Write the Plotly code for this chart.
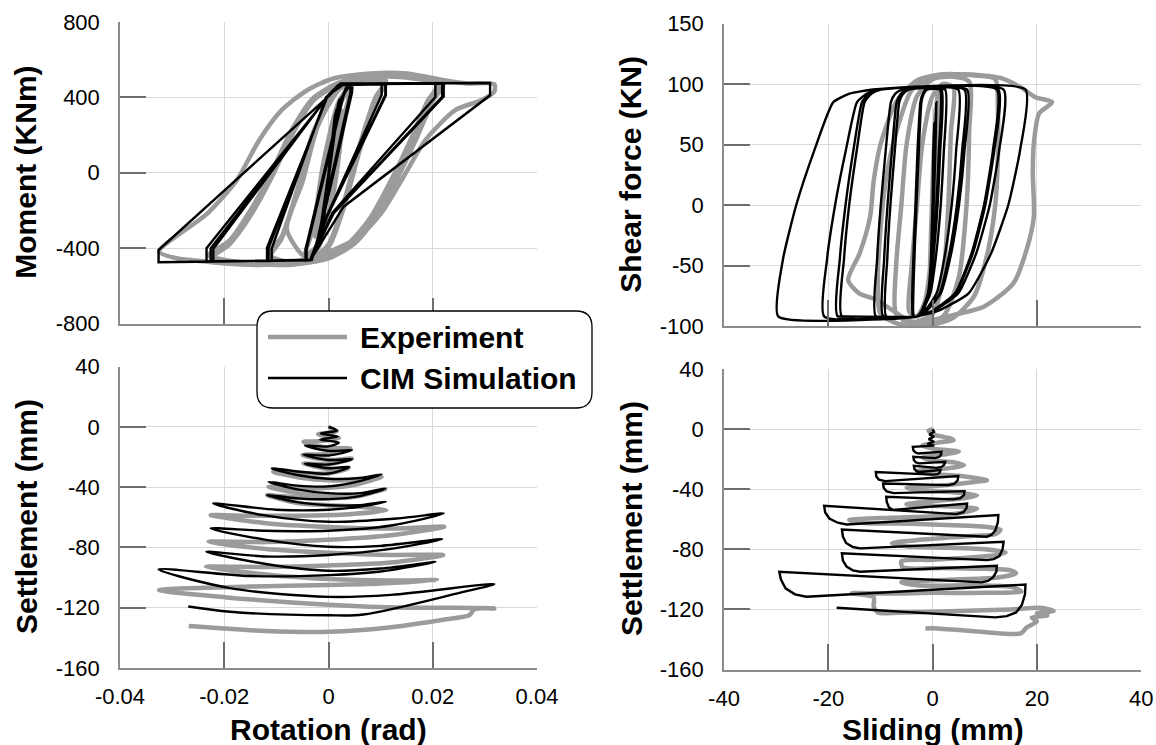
import plotly.graph_objects as go

# ---------------- DATA ----------------
# Top-left: Moment (KNm) vs Rotation (rad)
TL_EXP = [
    (0, 0), (0.0015, 200), (0.002, 280), (0.0005, 0), (-0.002, -280), (-0.0005, 0), (0.0025, 330), (0, -50), (-0.0025, -340),
    (-0.001, 50), (0.002, 350), (0.0045, 470), (0.003, 300), (0.001, -100), (-0.002, -380), (-0.0045, -440),
    (-0.003, -300), (-0.001, 50), (0.002, 380), (0.0045, 470), (0.003, 280), (0.0005, -150), (-0.002, -400), (-0.0045, -445),
    (-0.008, -300), (-0.005, -50), (-0.002, 250), (0.002, 440), (0.006, 500), (0.011, 490),
    (0.009, 400), (0.006, 150), (0.003, -150), (0, -380), (-0.004, -470), (-0.008, -475), (-0.011, -440),
    (-0.009, -350), (-0.006, -100), (-0.003, 200), (0.001, 420), (0.006, 495), (0.011, 485),
    (0.009, 380), (0.006, 120), (0.003, -180), (0, -390), (-0.004, -470), (-0.008, -472), (-0.0115, -435),
    (-0.009, -340), (-0.006, -90), (-0.003, 210), (0.001, 420), (0.006, 490), (0.011, 480),
    (0.009, 380), (0.006, 120), (0.003, -180), (0, -395), (-0.004, -470), (-0.008, -470),
    (-0.015, -480), (-0.022, -445),
    (-0.019, -380), (-0.015, -230), (-0.011, -30), (-0.007, 200), (-0.003, 380), (0.002, 470), (0.008, 510), (0.015, 505), (0.022, 475),
    (0.020, 390), (0.017, 200), (0.013, -30), (0.009, -230), (0.005, -370), (0, -450), (-0.007, -485), (-0.015, -480), (-0.0225, -445),
    (-0.019, -370), (-0.015, -210), (-0.011, -10), (-0.007, 220), (-0.003, 390), (0.002, 475), (0.008, 510), (0.015, 505), (0.022, 470),
    (0.020, 380), (0.017, 190), (0.013, -40), (0.009, -240), (0.005, -375), (0, -455), (-0.007, -488), (-0.015, -482), (-0.023, -440),
    (-0.019, -360), (-0.015, -200), (-0.011, 0), (-0.007, 230), (-0.003, 395), (0.002, 478), (0.008, 512), (0.015, 505), (0.021, 470),
    (0.019, 380), (0.016, 190), (0.012, -40), (0.008, -240), (0.004, -370), (-0.001, -450), (-0.008, -485), (-0.016, -485),
    (-0.024, -470), (-0.029, -455), (-0.0325, -418),
    (-0.0232, -215), (-0.0176, -39), (-0.0133, 173), (-0.009, 332), (-0.0041, 438), (0.0009, 500), (0.008, 527), (0.0151, 527),
    (0.0222, 491), (0.0265, 474), (0.0318, 470),
    (0.0318, 430), (0.0293, 385), (0.0243, 332), (0.0186, 173), (0.0144, -21), (0.0101, -215), (0.0059, -339), (0.0009, -410),
    (-0.0062, -471), (-0.0133, -489), (-0.0204, -480), (-0.0268, -462),
]
TL_SIM = [
    (0, 0), (0.0012, 300), (0.0016, 340), (-0.0010, -280), (-0.0014, -330), (0.0018, 360), (0.0021, 390), (-0.0016, -350), (-0.0020, -380), (0.0020, 380),
    (0.0042, 468), (0.0042, 425), (-0.0020, -340), (-0.0032, -462), (-0.0042, -466), (-0.0042, -405), (0.0028, 400), (0.0036, 466),
    (0.0045, 470), (0.0045, 425), (-0.0018, -340), (-0.0032, -462), (-0.0044, -466), (-0.0044, -405), (0.0026, 400), (0.0036, 466),
    (0.0042, 470), (0.0042, 425), (-0.0020, -345), (-0.0033, -462),
    (-0.0109, -466), (-0.0109, -402), (-0.0005, 400), (0.0019, 466), (0.0102, 470), (0.0102, 412), (-0.0004, -233), (-0.0035, -462),
    (-0.0115, -468), (-0.0115, -400), (-0.0003, 403), (0.0020, 466), (0.0109, 470), (0.0109, 412), (-0.0003, -230), (-0.0035, -462),
    (-0.0118, -468), (-0.0118, -398), (-0.0002, 405), (0.0021, 468), (0.0110, 471), (0.0110, 410), (-0.0002, -228), (-0.0035, -463),
    (-0.0221, -470), (-0.0221, -405), (0.0002, 418), (0.0028, 470), (0.0221, 473), (0.0221, 405), (0.0010, -215), (-0.0035, -464),
    (-0.0226, -470), (-0.0226, -402), (0.0003, 420), (0.0030, 471), (0.0218, 473), (0.0218, 403), (0.0010, -212), (-0.0035, -464),
    (-0.0234, -471), (-0.0234, -400), (0.0004, 421), (0.0031, 472), (0.0205, 474), (0.0205, 402), (0.0008, -210), (-0.0035, -465),
    (-0.0326, -475), (-0.0326, -410), (0.0002, 411), (0.0023, 474), (0.0310, 476), (0.0310, 411), (0.0029, -180), (-0.0035, -465),
    (-0.0268, -472),
]

# Top-right: Shear force (KN) vs Sliding (mm)
TR_EXP = [
    (0, 0), (0.3, 50), (0.6, 80), (0, 20), (-0.5, -50), (-0.8, -75), (0, -10), (0.8, 85), (1.2, 95),
    (0.8, 40), (0, -30), (-1.5, -80), (-3, -92), (-4.5, -88),
    (-4, -50), (-3, 0), (-2, 50), (0, 90), (2, 100), (4, 97),
    (3.5, 60), (3, 0), (2, -60), (0, -90), (-4, -97), (-7, -90),
    (-7, -50), (-6, 0), (-5, 50), (-3, 90), (0, 104), (4, 106), (7, 102),
    (7, 60), (6.5, 0), (5, -60), (2, -92), (-3, -99), (-7.7, -87), (-11, -78), (-14.1, -73), (-16.2, -62),
    (-14, -40), (-12, -10), (-11.3, 20), (-10, 50), (-7, 85), (-3, 103), (2, 108), (8, 107), (12, 104),
    (12.5, 80), (12.5, 40), (12, 0), (10.5, -40), (8, -75), (4, -93), (-1, -100), (-6, -99), (-10, -90),
    (-10.5, -60), (-10, -20), (-9, 20), (-7, 60), (-4, 95), (0, 106), (6, 108), (13, 105), (17, 97),
    (19.7, 89), (22.9, 85), (20.4, 75.6), (19.4, 50.8), (19.2, 26), (19.4, -9.6), (18.0, -37.1), (15.5, -64.6),
    (9.9, -83.8), (2.8, -92), (-2, -97), (-6, -95),
]
TR_SIM = [
    (0, 0), (0.1, 40), (0.3, 68), (0.1, 20), (-0.3, -40), (-0.5, -70), (0.1, 10), (0.5, 60), (0.7, 85), (0.5, 40),
    (0, -20), (-0.8, -70), (-1.8, -88), (-3.0, -92),
    (-3.8, -92), (-3.7, -45), (-3.3, 0), (-2.9, 45), (-2.35, 85), (-1.9, 92), (-1.3, 95.4), (1.7, 95.4),
    (1.45, 45), (0.95, 0), (0.2, -40), (-0.75, -73), (-2.05, -87), (-3.0, -92),
    (-3.7, -92), (-3.6, -45), (-3.2, 0), (-2.75, 45), (-2.25, 85), (-1.8, 92), (-1.2, 95.4), (2.4, 95.4),
    (2.15, 45), (1.55, 0), (0.7, -40), (-0.45, -73), (-1.9, -87), (-3.0, -92),
    (-3.6, -92), (-3.5, -45), (-3.1, 0), (-2.65, 45), (-2.15, 85), (-1.7, 92), (-1.1, 95.4), (1.4, 95.4),
    (1.2, 45), (0.7, 0), (0.0, -40), (-0.9, -73), (-2.1, -87), (-3.0, -92),
    (-10.9, -92), (-10.65, -45), (-9.95, 0), (-9.0, 45), (-8.0, 85), (-7.15, 92), (-5.9, 95.4), (4.9, 95.4),
    (4.5, 45), (3.65, 0), (2.4, -40), (0.75, -73), (-1.4, -87), (-3.0, -92),
    (-9.5, -92), (-9.3, -45), (-8.65, 0), (-7.8, 45), (-6.9, 85), (-6.1, 92), (-5.0, 95.4), (6.1, 95.4),
    (5.65, 45), (4.65, 0), (3.2, -40), (1.35, -73), (-1.15, -87), (-3.0, -92),
    (-8.9, -92), (-8.7, -45), (-8.1, 0), (-7.25, 45), (-6.4, 85), (-5.7, 92), (-4.6, 95.4), (6.6, 95.4),
    (6.1, 45), (5.05, 0), (3.55, -40), (1.55, -73), (-1.05, -87), (-3.0, -92),
    (-20.8, -92), (-20.25, -45), (-18.7, 0), (-16.65, 45), (-14.5, 85), (-12.6, 92), (-9.9, 95.4), (12.6, 95.4),
    (11.8, 45), (10.1, 0), (7.7, -40), (4.4, -73), (0.2, -87), (-3.0, -92),
    (-18.2, -92), (-17.8, -45), (-16.7, 0), (-15.2, 45), (-13.55, 85), (-12.2, 92), (-10.2, 95.4), (13.6, 95.4),
    (12.75, 45), (10.95, 0), (8.35, -40), (4.9, -73), (0.4, -87), (-3.0, -92),
    (-17.4, -92), (-17.0, -45), (-16.0, 0), (-14.55, 45), (-13.05, 85), (-11.75, 92), (-9.9, 95.4), (12.3, 95.4),
    (11.55, 45), (9.85, 0), (7.45, -40), (4.3, -73), (0.1, -87), (-3.0, -92),
    (-29.6, -92), (-28.7, -45), (-26.15, 0), (-22.7, 45), (-19.05, 85), (-15.95, 92), (-11.4, 95.4), (17.8, 95.4),
    (16.75, 45), (14.5, 0), (11.2, -40), (6.9, -73), (1.25, -87), (-3.0, -92),
    (-18.4, -92),
]

# Bottom-left: Settlement (mm) vs Rotation (rad)
BL_EXP = [
    (0, 0), (0.0015, -3), (-0.002, -5), (0.002, -7.5), (-0.002, -9.5),
    (-0.0048, -10), (0, -14), (0.0042, -14.4), (0, -18), (-0.005, -18.8), (0, -22), (0.0045, -21), (0, -25),
    (-0.0048, -24.3), (0, -28), (0.0038, -27.6), (0, -31),
    (-0.0106, -29.9), (-0.005, -34), (0, -35.5), (0.006, -35), (0.0102, -33.2),
    (0.005, -38.5), (0, -40.5), (-0.006, -41), (-0.0115, -39.8),
    (-0.006, -44), (0, -45.5), (0.006, -45), (0.0109, -41.3),
    (0.005, -46.5), (0, -47.5), (-0.006, -47), (-0.0118, -45.3),
    (-0.006, -50.5), (0, -52), (0.006, -53), (0.0111, -55.3),
    (0.004, -58), (-0.006, -59), (-0.015, -59), (-0.0226, -58.6),
    (-0.012, -64), (0, -66.5), (0.012, -67.5), (0.0222, -66.3),
    (0.012, -72), (0, -75), (-0.012, -76.5), (-0.023, -76.3),
    (-0.012, -81), (0, -83.5), (0.012, -85), (0.022, -85.1),
    (0.012, -90), (0, -92), (-0.012, -93), (-0.0235, -92.9),
    (-0.012, -98), (0, -101), (0.012, -102), (0.0208, -101.7),
    (0.01, -104), (0, -105), (-0.015, -106), (-0.0325, -108.3),
    (-0.02, -113), (0, -118), (0.015, -120), (0.025, -120), (0.0318, -120.5),
    (0.028, -121), (0.027, -125), (0.022, -128), (0.012, -133), (0, -136), (-0.012, -135.5), (-0.0268, -132.2),
]
BL_SIM = [
    (0, 0), (0.0017, -2.5), (-0.0015, -4.5), (0.0018, -6.5), (-0.0016, -8.5), (0.0020, -10.5),
    (0, -13), (-0.0045, -12.5), (0, -16), (0.0045, -15.5), (0, -19), (-0.0048, -18.5), (0, -22), (0.0045, -21.5),
    (0, -25), (-0.0045, -24.5), (0, -27.5), (0.0040, -26.5), (0, -31),
    (-0.0109, -27.6), (-0.006, -32), (0, -34.5), (0.006, -34), (0.0102, -31.5),
    (0.006, -36), (0, -39.5), (-0.006, -39), (-0.0115, -36.5),
    (-0.006, -41.5), (0, -44), (0.006, -44), (0.0109, -41),
    (0.006, -46), (0, -48), (-0.006, -47.5), (-0.0118, -45.3),
    (-0.006, -50), (0, -52), (0.006, -52), (0.011, -49.7),
    (0.006, -53), (0, -55), (-0.01, -55), (-0.0221, -50.9),
    (-0.0125, -58.6), (0, -63), (0.0131, -60.8), (0.0221, -57.5),
    (0.012, -65.5), (0, -69), (-0.012, -69), (-0.0226, -67.4),
    (-0.012, -75), (0, -79.6), (0.01, -79), (0.0218, -74.5),
    (0.012, -81), (0, -85), (-0.012, -86), (-0.0234, -82.9),
    (-0.012, -91), (0, -95.5), (0.01, -94), (0.0205, -89.6),
    (0.01, -96), (0, -98.4), (-0.015, -99), (-0.0326, -94.6),
    (-0.0189, -107), (0, -112.8), (0.012, -111.5), (0.0318, -104.3),
    (0.0253, -110), (0.0067, -124.5), (0, -125), (-0.0189, -122.7), (-0.0269, -119.2),
]

# Bottom-right: Settlement (mm) vs Sliding (mm)
BR_EXP = [
    (0, 0), (-0.8, -1), (0.5, -4), (3.3, -6), (4, -7.3), (1, -9), (-2, -11), (0, -13), (3, -14), (5, -15),
    (2, -17), (-2, -19), (0, -21), (4, -22), (6, -24), (3, -26), (-3, -28), (0, -30), (5, -31), (9, -33),
    (10.4, -34), (6, -36), (0, -38), (-5, -39), (-2, -41), (4, -42), (8.5, -44), (6, -46), (0, -48), (-5, -50),
    (0, -51), (6, -52), (8.5, -53), (5, -56), (0, -58), (-8, -59), (-16, -60.5), (-13, -62.5), (-4, -63), (4, -64),
    (10, -65), (13, -67), (12, -70), (8, -71), (0, -73), (-7.8, -76), (-5, -78), (3, -79), (10, -80), (14, -82),
    (12, -84), (5, -86), (0, -87), (-6, -88), (-5.7, -92), (2, -92.5), (10, -93), (15, -94), (16, -96), (12, -99),
    (5, -100), (-2, -101), (-6, -102), (-3, -104), (8, -104), (15, -105), (17, -108), (10, -109), (0, -109),
    (-8, -109.5), (-15.5, -109.2), (-11.3, -112), (-11.3, -118), (-10.5, -122), (-5, -122), (5, -121), (15, -120),
    (21, -119), (23.2, -121), (20, -122.5), (22, -124), (19, -125.5), (20, -128), (18, -132), (16.9, -136),
    (8, -134.5), (0, -132.5), (-1.4, -132.7),
]
BR_SIM = [
    (0, 0), (0.26, -1.8), (-0.64, -3.5), (0.26, -5.1), (-0.77, -6.7), (0.26, -8.4), (-1.0, -9.8), (0.3, -11.0),
    (-3.8, -11.8), (-3.7, -14.0), (-3.3, -15.6), (-2.7, -16.2), (1.7, -15.1), (1.6, -17.2), (1.2, -18.6), (0.5, -19.3),
    (-3.7, -18.4), (-3.6, -20.6), (-3.2, -22.2), (-2.6, -22.8), (2.4, -21.7), (2.2, -23.8), (1.7, -25.2), (0.8, -25.8),
    (-3.6, -24.4), (-3.5, -26.5), (-3.1, -28.0), (-2.5, -28.5), (1.5, -27.3), (1.35, -29.0), (0.9, -30.0), (0.1, -30.3),
    (-10.9, -28.6), (-10.8, -31.5), (-10.3, -33.7), (-9.1, -34.6), (4.9, -31.3), (4.8, -34.0), (4.2, -36.3), (3.0, -37.3),
    (-9.5, -36.2), (-9.4, -39.0), (-8.8, -41.5), (-7.5, -42.6), (6.1, -41.3), (6.0, -44.0), (5.3, -46.0), (4.0, -46.8),
    (-8.9, -45.0), (-8.8, -48.5), (-8.4, -52.0), (-7.6, -53.8), (6.6, -49.5), (6.5, -52.5), (5.9, -55.3), (4.6, -56.6),
    (-20.8, -51.0), (-20.6, -55.5), (-19.8, -59.5), (-18.2, -62.3), (-16.5, -63.5), (12.6, -57.2),
    (12.5, -62.0), (12.0, -67.5), (11.3, -70.3), (10.4, -71.6),
    (-17.4, -66.8), (-17.2, -71.5), (-16.6, -75.8), (-15.3, -78.5), (-13.9, -79.4), (13.6, -75.0),
    (13.4, -80.0), (12.8, -84.5), (11.7, -86.5), (10.4, -87.2),
    (-17.4, -82.7), (-17.2, -87.5), (-16.5, -91.5), (-15.3, -94.0), (-13.9, -94.9), (12.3, -90.9),
    (12.2, -95.0), (11.6, -98.5), (10.6, -101.0), (9.4, -102.0),
    (-29.4, -94.9), (-29.1, -100.0), (-28.2, -106.0), (-26.4, -110.0), (-24.2, -111.6), (17.8, -103.5),
    (17.7, -110.0), (17.1, -117.0), (16.0, -122.0), (14.2, -124.5), (12.0, -125.3),
    (-18.4, -118.9),
]

ROT_TICKS = [-0.04, -0.02, 0, 0.02, 0.04]
ROT_TICKTEXT = ["-0.04", "-0.02", "0", "0.02", "0.04"]
SLIDE_TICKS = [-40, -20, 0, 20, 40]
SLIDE_TICKTEXT = ["-40", "-20", "0", "20", "40"]
MOMENT_TICKS = [-800, -400, 0, 400, 800]
MOMENT_TICKTEXT = ["-800", "-400", "0", "400", "800"]
SHEAR_TICKS = [-100, -50, 0, 50, 100, 150]
SHEAR_TICKTEXT = ["-100", "-50", "0", "50", "100", "150"]
SETTLE_TICKS = [-160, -120, -80, -40, 0, 40]
SETTLE_TICKTEXT = ["-160", "-120", "-80", "-40", "0", "40"]

LEGEND_LABELS = ["Experiment", "CIM Simulation"]
EXP_COLOR = "#9b9b9b"
SIM_COLOR = "#000000"

# ---------------- FIGURE ----------------
W, H = 1156, 745
FONT = "Liberation Sans, Arial, sans-serif"


def px_x(p):
    return p / W


def px_y(p):
    return 1 - p / H


def xy(points):
    return [p[0] for p in points], [p[1] for p in points]


fig = go.Figure()

panels = [
    (TL_EXP, TL_SIM, "x", "y", "spline", "linear", 0.5),
    (TR_EXP, TR_SIM, "x2", "y2", "spline", "spline", 0.5),
    (BL_EXP, BL_SIM, "x3", "y3", "spline", "spline", 0.9),
    (BR_EXP, BR_SIM, "x4", "y4", "spline", "linear", 0.5),
]
for exp, sim, xa, ya, shp_e, shp_s, sm in panels:
    ex, ey = xy(exp)
    sx, sy = xy(sim)
    fig.add_trace(go.Scatter(x=ex, y=ey, xaxis=xa, yaxis=ya, mode="lines",
                             line=dict(color=EXP_COLOR, width=4.5, shape=shp_e, smoothing=0.7),
                             showlegend=False, hoverinfo="skip"))
    fig.add_trace(go.Scatter(x=sx, y=sy, xaxis=xa, yaxis=ya, mode="lines",
                             line=dict(color=SIM_COLOR, width=2.4, shape=shp_s, smoothing=sm),
                             showlegend=False, hoverinfo="skip"))

axis_common = dict(
    showgrid=True, gridcolor="#d9d9d9", gridwidth=1, zeroline=False,
    showline=True, linecolor="#8c8c8c", linewidth=1.5,
    ticks="inside", ticklen=26, tickwidth=1.5, tickcolor="#6e6e6e",
    tickfont=dict(family=FONT, size=22, color="black"),
    fixedrange=True, automargin=False,
)

fig.update_layout(
    width=W, height=H,
    margin=dict(l=0, r=0, t=0, b=0, pad=0, autoexpand=False),
    paper_bgcolor="white", plot_bgcolor="white",
    font=dict(family=FONT, color="black"),
    showlegend=False,
    xaxis=dict(axis_common, domain=[px_x(120), px_x(537)], anchor="y", range=[-0.04, 0.04],
               tickvals=ROT_TICKS, showticklabels=False),
    yaxis=dict(axis_common, domain=[px_y(323.5), px_y(22)], anchor="x", range=[-800, 800],
               tickvals=MOMENT_TICKS, ticktext=MOMENT_TICKTEXT, ticklabelstandoff=14),
    xaxis2=dict(axis_common, domain=[px_x(724), px_x(1141.3)], anchor="y2", range=[-40, 40],
                tickvals=SLIDE_TICKS, showticklabels=False),
    yaxis2=dict(axis_common, domain=[px_y(326), px_y(23.5)], anchor="x2", range=[-100, 150],
                tickvals=SHEAR_TICKS, ticktext=SHEAR_TICKTEXT, ticklabelstandoff=14),
    xaxis3=dict(axis_common, domain=[px_x(120), px_x(537)], anchor="y3", range=[-0.04, 0.04],
                tickvals=ROT_TICKS, ticktext=ROT_TICKTEXT, ticklabelstandoff=8),
    yaxis3=dict(axis_common, domain=[px_y(668), px_y(366.5)], anchor="x3", range=[-160, 40],
                tickvals=SETTLE_TICKS, ticktext=SETTLE_TICKTEXT, ticklabelstandoff=14),
    xaxis4=dict(axis_common, domain=[px_x(724), px_x(1141.3)], anchor="y4", range=[-40, 40],
                tickvals=SLIDE_TICKS, ticktext=SLIDE_TICKTEXT, ticklabelstandoff=8),
    yaxis4=dict(axis_common, domain=[px_y(669.5), px_y(369)], anchor="x4", range=[-160, 40],
                tickvals=SETTLE_TICKS, ticktext=SETTLE_TICKTEXT, ticklabelstandoff=14),
)

# axis titles
titles = [
    ("Moment (KNm)", 26, 172.75, -90),
    ("Shear force (KN)", 631, 174.75, -90),
    ("Settlement (mm)", 26, 517, -90),
    ("Settlement (mm)", 631, 519, -90),
    ("Rotation (rad)", 328.5, 729, 0),
    ("Sliding (mm)", 932.7, 729, 0),
]
for txt, xp, yp, ang in titles:
    fig.add_annotation(text="<b>%s</b>" % txt, x=px_x(xp), y=px_y(yp), xref="paper", yref="paper",
                       showarrow=False, textangle=ang, xanchor="center", yanchor="middle",
                       font=dict(family=FONT, size=30, color="black"))

# legend box with rounded corners
x0, x1, y0, y1, r = 257, 592, 311, 408, 16
path = (
    f"M {px_x(x0 + r)},{px_y(y0)} L {px_x(x1 - r)},{px_y(y0)} Q {px_x(x1)},{px_y(y0)} {px_x(x1)},{px_y(y0 + r)} "
    f"L {px_x(x1)},{px_y(y1 - r)} Q {px_x(x1)},{px_y(y1)} {px_x(x1 - r)},{px_y(y1)} "
    f"L {px_x(x0 + r)},{px_y(y1)} Q {px_x(x0)},{px_y(y1)} {px_x(x0)},{px_y(y1 - r)} "
    f"L {px_x(x0)},{px_y(y0 + r)} Q {px_x(x0)},{px_y(y0)} {px_x(x0 + r)},{px_y(y0)} Z"
)
fig.add_shape(type="path", path=path, xref="paper", yref="paper", layer="above",
              fillcolor="white", line=dict(color="black", width=1.3))
legend_rows = [(LEGEND_LABELS[0], EXP_COLOR, 4.5, 337), (LEGEND_LABELS[1], SIM_COLOR, 2.4, 378)]
for label, col, wdt, yy in legend_rows:
    fig.add_shape(type="line", xref="paper", yref="paper", layer="above",
                  x0=px_x(268), x1=px_x(347), y0=px_y(yy), y1=px_y(yy),
                  line=dict(color=col, width=wdt))
    fig.add_annotation(text="<b>%s</b>" % label, x=px_x(358), y=px_y(yy), xref="paper", yref="paper",
                       showarrow=False, xanchor="left", yanchor="middle",
                       font=dict(family=FONT, size=30, color="black"))

fig.write_html("out.html")
